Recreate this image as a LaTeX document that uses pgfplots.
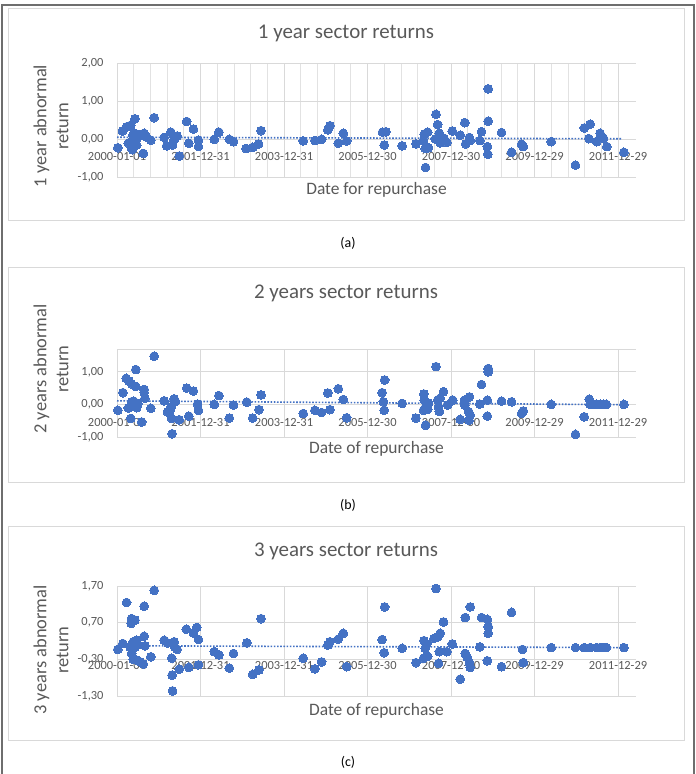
\documentclass[border=0pt]{standalone}
\usepackage{fontspec}
\setmainfont{Carlito}
\usepackage{pgfplots}
\pgfplotsset{compat=1.18}
\definecolor{dotblue}{HTML}{4472C4}
\definecolor{txtgrey}{HTML}{595959}
\definecolor{gridgrey}{HTML}{D9D9D9}
\definecolor{minorgrey}{HTML}{E2E2E2}
\definecolor{boxgrey}{HTML}{D9D9D9}
\definecolor{framegrey}{HTML}{6E6E6E}

\pgfplotsset{panel/.style={
  scale only axis, anchor=south west,
  width=519bp, xmin=0, xmax=12.43,
  xtick={0,2,4,6,8,10,12},
  xticklabels={2000-01-01,2001-12-31,2003-12-31,2005-12-30,2007-12-30,2009-12-29,2011-12-29},
  axis line style={draw=none},
  tick style={draw=none},
  major grid style={draw=gridgrey, line width=0.75bp},
  minor grid style={draw=minorgrey, line width=0.75bp},
  xmajorgrids, ymajorgrids,
  ticklabel style={font=\fontsize{12.5}{14}\selectfont, text=txtgrey},
  yticklabel style={anchor=east, xshift=-10bp},
  xlabel style={font=\fontsize{17.5}{20}\selectfont, text=txtgrey, at={(axis description cs:0.5,0)}, anchor=center},
  clip=false,
}}
\tikzset{
  dots/.style={only marks, mark=*, mark size=4.4bp, mark options={fill=dotblue, draw=dotblue, line width=0pt}},
  trend/.style={draw=dotblue, line width=1.6bp, dash pattern=on 1.6bp off 1.6bp},
  ttl/.style={font=\fontsize{21}{25}\selectfont, text=txtgrey},
  ylab/.style={font=\fontsize{18.5}{22}\selectfont, text=txtgrey, rotate=90, align=center},
  capt/.style={font=\fontsize{14}{17}\selectfont, text=black},
}

\begin{document}
\begin{tikzpicture}[x=1bp,y=1bp]
\useasboundingbox (0,0) rectangle (696,774);
\fill[white] (0,0) rectangle (696,774);
% outer frame
\draw[framegrey, line width=1.5bp] (2,-2) -- (2,769) -- (694,769) -- (694,-2);
% chart boxes
\draw[boxgrey, line width=0.9bp] (8,554) rectangle (684,766);
\draw[boxgrey, line width=0.9bp] (8,292) rectangle (684,507);
\draw[boxgrey, line width=0.9bp] (8,34) rectangle (684,248);

% ---------------- (a)
\begin{axis}[panel, at={(117bp,597bp)}, height=114bp,
  ymin=-1, ymax=2, ytick={-1,0,1,2},
  yticklabels={{-1,00},{0,00},{1,00},{2,00}},
  minor x tick num=4, xminorgrids,
  xticklabel style={anchor=center, yshift=20bp},
  xlabel={Date for repurchase}, xlabel style={yshift=-13bp}]
\addplot[trend] coordinates {(0,0.045) (12.1,0.005)};
\addplot[dots] table {
0.02 -0.23
0.13 0.21
0.23 0.32
0.27 -0.11
0.31 0.34
0.33 0.36
0.35 -0.25
0.37 -0.28
0.38 0.10
0.40 0.00
0.42 0.15
0.43 0.53
0.45 -0.05
0.47 -0.16
0.50 0.08
0.55 0.12
0.63 -0.38
0.65 0.15
0.70 0.05
0.81 -0.03
0.89 0.56
1.13 0.04
1.19 -0.18
1.29 0.18
1.33 -0.16
1.37 -0.02
1.44 0.08
1.49 -0.45
1.67 0.46
1.72 -0.11
1.83 0.26
1.95 -0.03
1.95 -0.20
2.33 -0.01
2.44 0.18
2.69 -0.01
2.79 -0.07
3.09 -0.25
3.25 -0.22
3.39 -0.13
3.45 0.22
4.46 -0.05
4.74 -0.04
4.90 -0.01
5.05 0.24
5.10 0.35
5.30 -0.11
5.42 0.15
5.50 -0.05
6.36 0.18
6.44 0.19
6.40 -0.16
6.83 -0.18
7.16 -0.13
7.34 -0.04
7.36 0.13
7.44 0.18
7.38 -0.25
7.46 -0.23
7.39 -0.75
7.64 0.65
7.68 0.38
7.70 0.02
7.72 0.15
7.62 0.00
7.74 -0.10
7.83 0.02
7.90 -0.09
8.03 0.21
8.22 0.10
8.33 0.43
8.35 -0.13
8.44 0.04
8.46 -0.04
8.69 -0.04
8.73 0.19
8.87 -0.20
8.89 0.47
8.89 1.32
8.88 -0.40
9.21 0.17
9.45 -0.35
9.69 -0.14
9.73 -0.20
10.40 -0.07
10.98 -0.69
11.19 0.29
11.33 0.39
11.30 0.01
11.49 -0.07
11.57 0.15
11.65 0.02
11.73 -0.20
12.14 -0.35
};
\end{axis}

% ---------------- (b)
\begin{axis}[panel, at={(117bp,337bp)}, height=88bp,
  ymin=-1, ymax=1.7, ytick={-1,0,1},
  yticklabels={{-1,00},{0,00},{1,00}},
  extra y ticks={1.7}, extra y tick labels={},
  xticklabel style={anchor=center, yshift=14.7bp},
  xlabel={Date of repurchase}, xlabel style={yshift=-12bp}]
\addplot[trend] coordinates {(0,0.11) (12.1,-0.01)};
\addplot[dots] table {
0.02 -0.18
0.14 0.36
0.22 0.80
0.29 0.72
0.35 0.63
0.45 0.55
0.45 1.07
0.27 -0.11
0.35 0.08
0.33 -0.43
0.38 -0.05
0.40 0.10
0.47 -0.10
0.50 0.03
0.59 -0.54
0.65 0.46
0.65 0.37
0.67 0.19
0.81 -0.12
0.89 1.48
1.13 0.11
1.21 -0.23
1.27 -0.20
1.31 -0.43
1.32 -0.90
1.37 0.17
1.40 0.09
1.30 -0.07
1.49 -0.47
1.67 0.50
1.72 -0.36
1.83 0.41
1.93 0.01
1.95 -0.18
2.33 0.00
2.44 0.27
2.69 -0.42
2.79 -0.02
3.11 0.07
3.25 -0.42
3.40 -0.16
3.45 0.29
4.46 -0.28
4.74 -0.18
4.90 -0.25
5.05 0.35
5.10 -0.16
5.30 0.48
5.42 0.15
5.50 -0.41
6.35 0.36
6.41 0.75
6.38 0.08
6.40 -0.18
6.83 0.03
7.16 -0.42
7.35 0.32
7.36 0.13
7.34 -0.18
7.39 -0.64
7.40 -0.05
7.44 -0.15
7.46 0.04
7.64 1.16
7.68 0.13
7.70 -0.08
7.74 0.19
7.72 -0.22
7.82 0.39
7.92 -0.02
8.04 0.13
8.22 -0.46
8.32 0.13
8.33 -0.02
8.44 0.23
8.42 -0.22
8.46 -0.33
8.43 -0.49
8.69 0.01
8.73 0.61
8.87 0.13
8.87 -0.36
8.89 1.10
8.89 1.00
9.21 0.10
9.45 0.08
9.69 -0.28
9.73 -0.20
10.40 0.00
10.98 -0.92
11.19 -0.38
11.31 0.16
11.33 0.00
11.40 0.00
11.49 0.00
11.57 0.00
11.65 0.00
11.72 0.00
12.14 0.00
};
\end{axis}

% ---------------- (c)
\begin{axis}[panel, at={(117bp,78bp)}, height=110bp,
  ymin=-1.3, ymax=1.7, ytick={-1.3,-0.3,0.7,1.7},
  yticklabels={{-1,30},{-0,30},{0,70},{1,70}},
  xticklabel style={anchor=center, yshift=30.3bp},
  xlabel={Date of repurchase}, xlabel style={yshift=-15bp}]
\addplot[trend] coordinates {(0,0.07) (12.1,0.02)};
\addplot[dots] table {
0.02 -0.03
0.14 0.13
0.23 1.25
0.31 0.04
0.34 0.68
0.35 0.81
0.39 0.18
0.43 0.77
0.47 0.22
0.35 -0.14
0.39 -0.30
0.47 -0.32
0.43 0.03
0.50 0.10
0.56 -0.37
0.63 -0.43
0.65 1.15
0.65 0.33
0.67 0.07
0.81 -0.23
0.89 1.58
1.13 0.22
1.21 0.15
1.31 -0.27
1.32 -0.73
1.33 -1.16
1.37 0.18
1.38 0.04
1.44 -0.03
1.49 -0.57
1.66 0.52
1.72 -0.52
1.83 0.42
1.91 0.57
1.95 0.24
1.95 -0.45
2.33 -0.09
2.44 -0.18
2.69 -0.54
2.79 -0.14
3.11 0.15
3.25 -0.71
3.40 -0.59
3.45 0.81
4.46 -0.27
4.74 -0.56
4.90 -0.37
5.05 0.09
5.10 0.18
5.30 0.25
5.42 0.41
5.50 -0.50
6.35 0.24
6.41 1.13
6.40 -0.12
6.83 0.00
7.16 -0.39
7.35 0.21
7.38 0.00
7.42 0.12
7.34 -0.27
7.44 -0.22
7.64 1.63
7.59 0.27
7.68 0.31
7.74 0.41
7.72 -0.09
7.70 -0.41
7.82 0.72
7.90 -0.09
8.03 0.12
8.22 -0.84
8.34 0.84
8.34 -0.14
8.39 -0.25
8.44 -0.39
8.46 1.13
8.46 -0.52
8.69 0.04
8.73 0.84
8.87 0.79
8.89 0.59
8.89 0.41
8.87 -0.34
9.21 -0.50
9.45 0.98
9.71 -0.03
9.73 -0.39
10.40 0.02
10.98 0.02
11.19 0.02
11.33 0.02
11.49 0.02
11.57 0.02
11.65 0.02
11.72 0.02
12.14 0.02
};
\end{axis}

% titles, y labels, captions
\node[ttl] at (346,741) {1 year sector returns};
\node[ttl] at (346,481) {2 years sector returns};
\node[ttl] at (346,223) {3 years sector returns};
\node[ylab] at (51,648) {1 year abnormal\\return};
\node[ylab] at (51,405) {2 years abnormal\\return};
\node[ylab] at (51,124) {3 years abnormal\\return};
\node[capt] at (348,531) {(a)};
\node[capt] at (348,269) {(b)};
\node[capt] at (348,12) {(c)};
\end{tikzpicture}
\end{document}
